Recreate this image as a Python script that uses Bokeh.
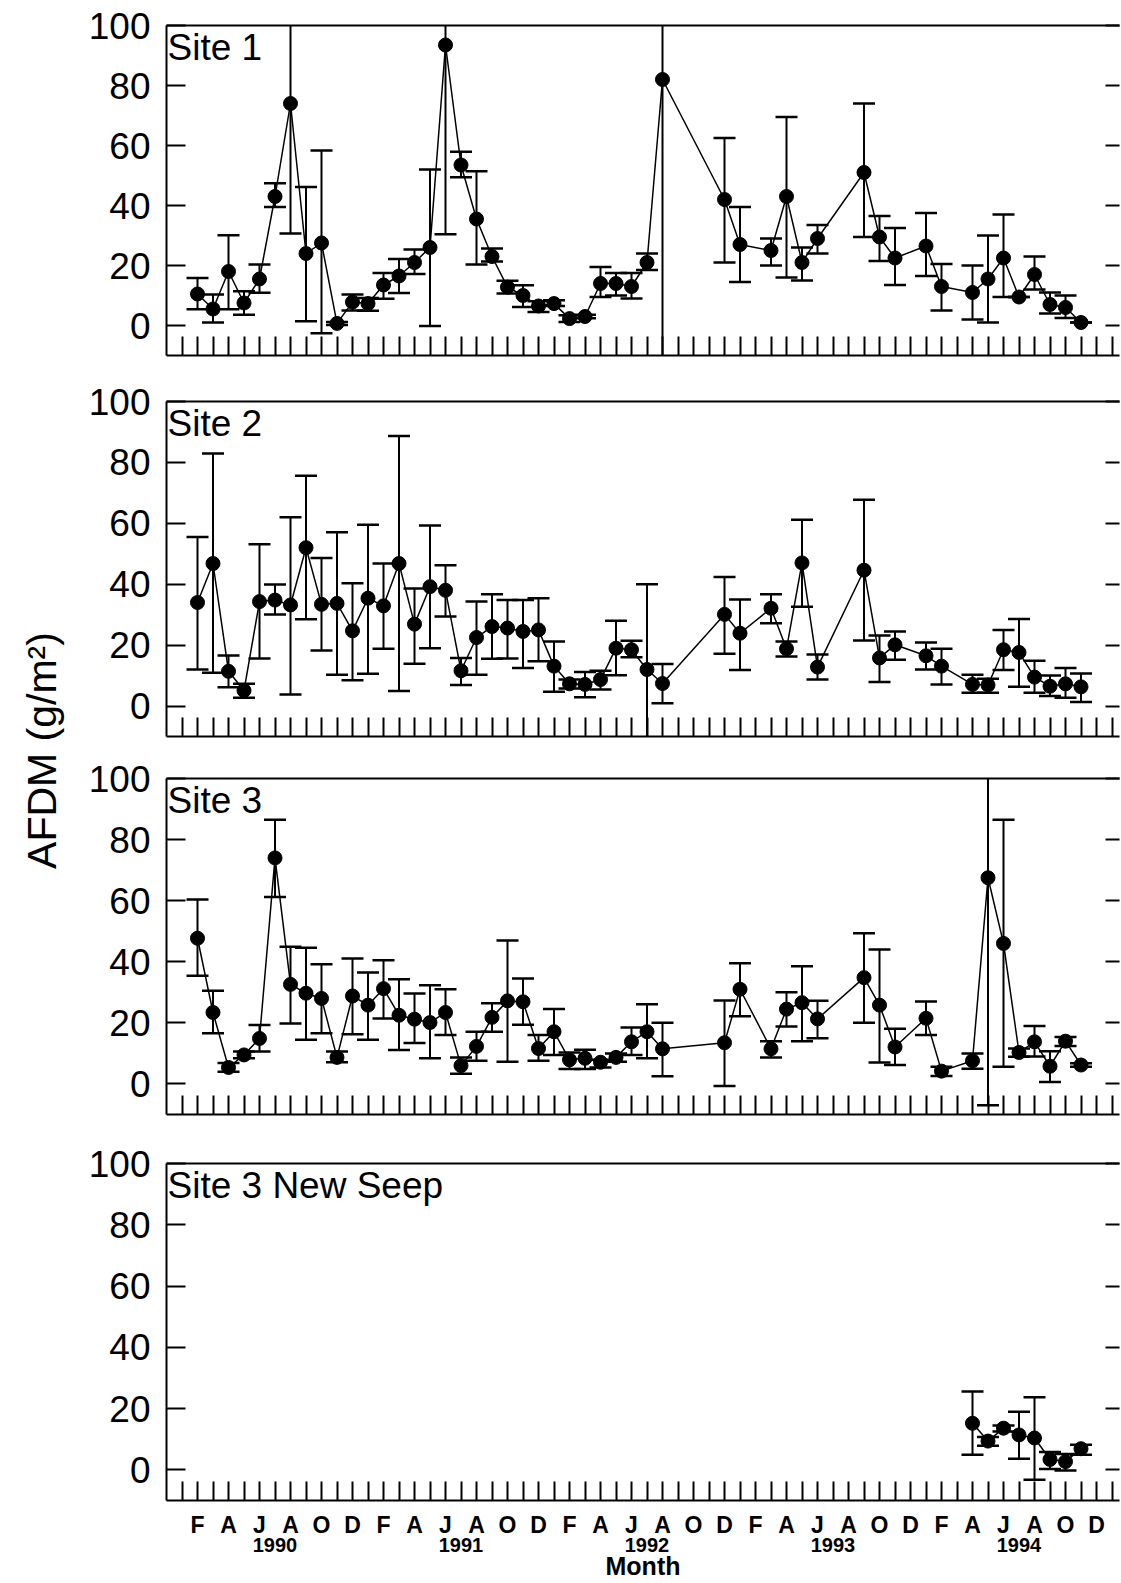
import math
from bokeh.plotting import figure
from bokeh.models import (Range1d, FixedTicker, LinearAxis, Label, ColumnDataSource,
                          CustomLabelingPolicy)
from bokeh.layouts import column, row
from bokeh.embed import file_html
from bokeh.resources import INLINE

FONT = "Liberation Sans"

# Month index: 0 = January 1990
site1_month = [1, 2, 3, 4, 5, 6, 7, 8, 9, 10, 11, 12, 13, 14, 15, 16, 17, 18, 19, 20,
               21, 22, 23, 24, 25, 26, 27, 28, 29, 30, 31, 35, 36, 38, 39, 40, 41, 44, 45, 46,
               48, 49, 51, 52, 53, 54, 55, 56, 57, 58]
site1_afdm = [10.5, 5.5, 18, 7.5, 15.5, 43, 74, 24, 27.5, 0.7, 7.8, 7.3, 13.5, 16.5, 21, 26, 93.5, 53.5, 35.5, 23,
              12.8, 10, 6.5, 7.3, 2.3, 3, 14, 14, 13, 21, 82, 42, 27, 25, 43, 21, 29, 51, 29.5, 22.5,
              26.5, 13, 11, 15.5, 22.5, 9.5, 17, 7, 6, 1]
site1_upper = [15.8, 10.3, 30.1, 11.4, 20.3, 47.4, 120, 46.2, 58.3, 1.2, 10.3, 9.2, 17.5, 22.2, 25.3, 52, 120, 57.9, 51.4, 25.7,
               14.9, 13.4, 8.1, 8.4, 3.4, 3.6, 19.5, 17.5, 17.5, 24, 130, 62.5, 39.5, 29, 69.5, 26, 33.5, 74, 36.5, 32.5,
               37.5, 20.5, 20, 30, 37, 9.5, 23, 11, 10, 1]
site1_lower = [5.4, 1, 5.4, 3.6, 10.9, 39.5, 30.7, 1.4, -2.6, 0.2, 5, 4.9, 8.9, 10.8, 17.2, -0.2, 30.4, 49.4, 20.3, 21.3,
               10.7, 6.2, 4.5, 6.5, 1.2, 2.4, 9.5, 10, 9, 18.5, -30, 21, 14.5, 20, 16, 15, 24, 29.5, 21.5, 13.5,
               16.5, 5, 2, 1, 9.5, 9.5, 12, 4, 2.5, 1]

site2_month = [1, 2, 3, 4, 5, 6, 7, 8, 9, 10, 11, 12, 13, 14, 15, 16, 17, 18, 19, 20,
               21, 22, 23, 24, 25, 26, 27, 28, 29, 30, 31, 35, 36, 38, 39, 40, 41, 44, 45, 46,
               48, 49, 51, 52, 53, 54, 55, 56, 57, 58]
site2_afdm = [34, 46.8, 11.4, 5.1, 34.3, 34.8, 33.2, 52, 33.4, 33.7, 24.7, 35.4, 32.9, 46.8, 26.9, 39.2, 38, 11.6, 22.5, 26.1,
              25.6, 24.5, 25, 13.1, 7.3, 7.1, 8.7, 19, 18.5, 12, 7.4, 30.1, 23.9, 32.1, 18.8, 47, 12.8, 44.6, 15.8, 20.1,
              16.5, 13.1, 7.1, 6.9, 18.5, 17.6, 9.5, 6.5, 7.3, 6.3]
site2_upper = [55.5, 82.9, 16.6, 7.3, 53.1, 39.9, 62, 75.6, 48.6, 57.1, 40.3, 59.5, 46.8, 88.7, 38.6, 59.3, 46.2, 15.8, 34.3, 36.7,
               34.8, 34.8, 35.4, 21.2, 8.7, 11.2, 11.6, 28, 21.4, 40, 13.8, 42.4, 35, 36.7, 21.2, 61.2, 16.9, 67.7, 23.2, 24.5,
               20.9, 18.8, 10.3, 9, 25, 28.6, 14.9, 10, 12.5, 10.7]
site2_lower = [12, 10.9, 6.2, 2.7, 15.6, 30.1, 3.8, 28.5, 18.2, 10.3, 8.5, 10.6, 18.8, 4.9, 13.9, 19, 29.4, 6.9, 10.3, 15.5,
               15.6, 12.5, 14.7, 4.7, 5.8, 2.9, 5.4, 10.1, 16, -20, 0.9, 17.2, 11.8, 27.2, 16.3, 32.6, 8.7, 21.5, 7.9, 15.2,
               12, 7.1, 4.4, 4.4, 11.8, 6.3, 4.4, 3.3, 2.7, 1.3]

site3_month = [1, 2, 3, 4, 5, 6, 7, 8, 9, 10, 11, 12, 13, 14, 15, 16, 17, 18, 19, 20,
               21, 22, 23, 24, 25, 26, 27, 28, 29, 30, 31, 35, 36, 38, 39, 40, 41, 44, 45, 46,
               48, 49, 51, 52, 53, 54, 55, 56, 57, 58]
site3_afdm = [47.7, 23.4, 5.4, 9.5, 14.9, 74, 32.6, 29.7, 28, 8.7, 28.8, 25.8, 31.2, 22.5, 21.2, 20.1, 23.4, 6, 12.3, 21.8,
              27.2, 26.9, 11.6, 17.1, 7.9, 8.4, 7.1, 8.7, 13.8, 17.1, 11.5, 13.5, 31, 11.5, 24.5, 26.6, 21.3, 34.8, 25.8, 12.1,
              21.5, 4.2, 7.6, 67.5, 46, 10.3, 13.8, 5.8, 14, 6.2]
site3_upper = [60.4, 30.5, 6.9, 10.6, 19.3, 86.5, 44.9, 44.6, 39.2, 10.6, 41.1, 36.5, 40.5, 34.3, 29.6, 32.3, 31, 8.7, 17.1, 26.4,
               47, 34.5, 16, 24.5, 10.3, 11.2, 7.9, 10, 18.5, 26.1, 20, 27.3, 39.5, 14, 30, 38.5, 27.2, 49.3, 44, 18.1,
               27, 5.6, 10, 130, 86.5, 11.6, 19, 10.7, 15.4, 6.8]
site3_lower = [35.4, 16.6, 4, 8.4, 10.6, 61.2, 19.8, 14.5, 16.6, 7.1, 16.3, 14.5, 21.4, 11.1, 13.4, 8.4, 16, 3.3, 7.6, 17.1,
               7.3, 19.4, 7.6, 9.5, 4.9, 4.9, 5.4, 7.3, 9.5, 8.4, 2.5, -0.7, 22.2, 8.7, 18.8, 14, 15, 20, 7, 6.2,
               16, 2.6, 5, -7, 5.6, 8.9, 9, 0.6, 12.4, 5.6]

seep_month = [51, 52, 53, 54, 55, 56, 57, 58]
seep_afdm = [15.2, 9.4, 13.6, 11.4, 10.4, 3.4, 2.7, 6.9]
seep_upper = [25.6, 10.7, 14.5, 19, 23.7, 5.8, 5.2, 8.2]
seep_lower = [4.9, 7.9, 12.5, 3.6, -3.2, 0.3, -0.2, 4.9]

panel_titles = ["Site 1", "Site 2", "Site 3", "Site 3 New Seep"]
y_ticks = [0, 20, 40, 60, 80, 100]
month_ticks = list(range(0, 61))
month_letters = ["", "F", "", "A", "", "J", "", "A", "", "O", "", "D"]
year_ticks = [6, 18, 30, 42, 54]
year_labels = ["1990", "1991", "1992", "1993", "1994"]
y_label_text = "AFDM (g/m\u00b2)"
x_label_text = "Month"

LEFT_W = 70
FRAME_W = 953
X_START = -1.0
X_END = X_START + FRAME_W / 15.5

NO_LABELS = "for (const i of indices) { indices.unset(i) } return indices"
ODD_LABELS = "for (const i of indices) { if (i % 2 == 0) indices.unset(i) } return indices"


def make_panel(title, m, v, hi, lo, frame_h, b_top, b_bottom, last=False):
    p = figure(frame_width=FRAME_W, frame_height=frame_h,
               x_range=Range1d(X_START, X_END), y_range=Range1d(-10, 100),
               toolbar_location=None, output_backend="svg",
               min_border_left=96, min_border_right=2,
               min_border_top=b_top, min_border_bottom=b_bottom)
    p.outline_line_color = None
    p.xgrid.visible = False
    p.ygrid.visible = False
    p.background_fill_color = "white"
    p.border_fill_color = "white"

    # left axis
    ya = p.yaxis[0]
    ya.ticker = FixedTicker(ticks=y_ticks, minor_ticks=[])
    ya.major_tick_in = 19
    ya.major_tick_out = 0
    ya.major_tick_line_width = 2
    ya.axis_line_width = 2
    ya.major_label_standoff = 16
    ya.major_label_text_font = FONT
    ya.major_label_text_font_size = "37px"
    ya.major_label_text_color = "black"

    # bottom axis
    xa = p.xaxis[0]
    xa.ticker = FixedTicker(ticks=month_ticks, minor_ticks=[])
    xa.major_tick_in = 19
    xa.major_tick_out = 0
    xa.major_tick_line_width = 2
    xa.axis_line_width = 2
    xa.major_label_text_font = FONT
    xa.major_label_text_color = "black"
    if last:
        xa.major_label_overrides = {t: month_letters[t % 12] for t in month_ticks}
        xa.major_label_policy = CustomLabelingPolicy(code=ODD_LABELS)
        xa.major_label_text_font_size = "23px"
        xa.major_label_text_font_style = "bold"
        xa.major_label_standoff = 11
        ya2 = LinearAxis(ticker=FixedTicker(ticks=year_ticks, minor_ticks=[]),
                         major_label_overrides={t: s for t, s in zip(year_ticks, year_labels)},
                         major_tick_in=0, major_tick_out=0, axis_line_color=None,
                         major_label_standoff=-3,
                         major_label_text_font=FONT, major_label_text_font_size="20px",
                         major_label_text_font_style="bold",
                         major_label_text_color="black",
                         axis_label=x_label_text, axis_label_text_font=FONT,
                         axis_label_text_font_size="25px", axis_label_text_font_style="bold",
                         axis_label_standoff=-3, axis_label_text_color="black")
        p.add_layout(ya2, "below")
    else:
        xa.major_label_text_font_size = "0px"
        xa.major_label_standoff = 0
        xa.major_label_policy = CustomLabelingPolicy(code=NO_LABELS)

    # top border
    top = LinearAxis(ticker=FixedTicker(ticks=[], minor_ticks=[]), major_tick_in=0, major_tick_out=0,
                     major_label_text_font_size="0px", major_label_standoff=0, axis_line_width=2)
    p.add_layout(top, "above")
    # right ticks
    right = LinearAxis(ticker=FixedTicker(ticks=y_ticks, minor_ticks=[]), major_tick_in=14, major_tick_out=0,
                       major_tick_line_width=2, axis_line_color=None,
                       major_label_text_font_size="0px", major_label_standoff=0,
                       major_label_policy=CustomLabelingPolicy(code=NO_LABELS))
    p.add_layout(right, "right")

    src = ColumnDataSource(dict(m=m, v=v, hi=hi, lo=lo))
    p.segment(x0="m", y0="lo", x1="m", y1="hi", source=src, line_color="black", line_width=2)
    p.scatter(x="m", y="hi", source=src, marker="dash", size=22, line_color="black", line_width=2.5)
    p.scatter(x="m", y="lo", source=src, marker="dash", size=22, line_color="black", line_width=2.5)
    p.line(x="m", y="v", source=src, line_color="black", line_width=1.5)
    p.scatter(x="m", y="v", source=src, size=14, fill_color="black", line_color="black")

    p.add_layout(Label(x=X_START, y=100, x_offset=1, y_offset=-1, text=title,
                       text_font=FONT, text_font_size="37px", text_color="black",
                       text_baseline="top", text_align="left"))
    return p


p1 = make_panel(panel_titles[0], site1_month, site1_afdm, site1_upper, site1_lower, 330, 25, 21)
p2 = make_panel(panel_titles[1], site2_month, site2_afdm, site2_upper, site2_lower, 335, 25, 20)
p3 = make_panel(panel_titles[2], site3_month, site3_afdm, site3_upper, site3_lower, 336, 22, 22)
p4 = make_panel(panel_titles[3], seep_month, seep_afdm, seep_upper, seep_lower, 337, 27, 83, last=True)

lab = figure(width=LEFT_W, height=1583, x_range=Range1d(0, LEFT_W), y_range=Range1d(0, 1583),
             toolbar_location=None, output_backend="svg", min_border=0,
             x_axis_location=None, y_axis_location=None)
lab.outline_line_color = None
lab.xgrid.visible = False
lab.ygrid.visible = False
lab.add_layout(Label(x=41, y=1583 - 750, text=y_label_text, angle=math.pi / 2,
                     text_font=FONT, text_font_size="41px", text_color="black",
                     text_align="center", text_baseline="middle"))

layout = row(lab, column(p1, p2, p3, p4, spacing=0), spacing=0)

with open("out.html", "w") as f:
    f.write(file_html(layout, INLINE))
